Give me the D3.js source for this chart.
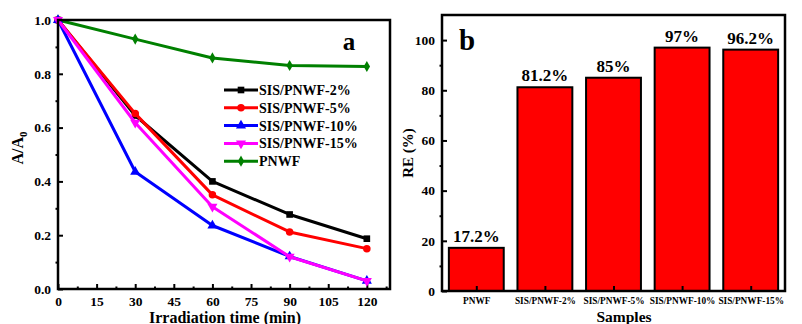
<!DOCTYPE html>
<html><head><meta charset="utf-8">
<script src="https://cdn.jsdelivr.net/npm/d3@7"></script>
<style>body{margin:0;background:#fff}svg{display:block}text{font-family:"Liberation Serif","Times New Roman",serif;font-weight:bold}</style>
</head><body><svg id="c" width="802" height="324"></svg>
<script>
// ---- data ----
const times = [0, 30, 60, 90, 120];
const s2 = [1.0, 0.645, 0.40, 0.277, 0.187];
const s5 = [1.0, 0.652, 0.35, 0.212, 0.150];
const s10 = [1.0, 0.436, 0.236, 0.121, 0.03];
const s15 = [1.0, 0.618, 0.306, 0.120, 0.03];
const pnwf = [1.0, 0.929, 0.859, 0.831, 0.827];
const seriesNames = ["SIS/PNWF-2%", "SIS/PNWF-5%", "SIS/PNWF-10%", "SIS/PNWF-15%", "PNWF"];
const xTicksA = [0, 15, 30, 45, 60, 75, 90, 105, 120];
const yTicksA = [0.0, 0.2, 0.4, 0.6, 0.8, 1.0];
const samples = ["PNWF", "SIS/PNWF-2%", "SIS/PNWF-5%", "SIS/PNWF-10%", "SIS/PNWF-15%"];
const reValues = [17.2, 81.2, 85, 97, 96.2];
const reLabels = ["17.2%", "81.2%", "85%", "97%", "96.2%"];
const yTicksB = [0, 20, 40, 60, 80, 100];

const svg = d3.select("#c");

// ---- panel a ----
const A = {l: 58, r: 390, t: 20, b: 289};
const xa = d3.scaleLinear().domain([0, 129]).range([A.l, A.r]);
const ya = d3.scaleLinear().domain([0, 1.0]).range([A.b, A.t]);
const ga = svg.append("g");

const xMinA = d3.range(7.5, 129, 15);
ga.append("g").attr("transform", `translate(0,${A.b})`)
  .call(d3.axisBottom(xa).tickValues(xMinA).tickSize(-2.5).tickFormat(""))
  .call(g => g.select(".domain").remove()).selectAll("line").attr("stroke-width", 2);
const gxa = ga.append("g").attr("transform", `translate(0,${A.b})`)
  .call(d3.axisBottom(xa).tickValues(xTicksA).tickSize(-5).tickPadding(7).tickFormat(d3.format("d")));
gxa.select(".domain").remove();
gxa.selectAll("line").attr("stroke-width", 2);
gxa.selectAll("text").attr("font-size", 13.5).attr("fill", "#000")
  .attr("font-family", "Liberation Serif").attr("font-weight", "bold").attr("dy", "0.71em");

const yMinA = d3.range(0.1, 1.0, 0.2);
ga.append("g").attr("transform", `translate(${A.l},0)`)
  .call(d3.axisLeft(ya).tickValues(yMinA).tickSize(2.5).tickFormat(""))
  .call(g => g.select(".domain").remove()).selectAll("line").attr("stroke-width", 2);
const gya = ga.append("g").attr("transform", `translate(${A.l},0)`)
  .call(d3.axisLeft(ya).tickValues(yTicksA).tickSize(-5).tickPadding(7).tickFormat(d3.format(".1f")));
gya.select(".domain").remove();
gya.selectAll("line").attr("stroke-width", 2);
gya.selectAll("text").attr("font-size", 13.5).attr("fill", "#000")
  .attr("font-family", "Liberation Serif").attr("font-weight", "bold");

const colors = ["#000000", "#ff0000", "#0000ff", "#ff00ff", "#008000"];
const symbols = [d3.symbolSquare, d3.symbolCircle, d3.symbolTriangle, "tri-down", d3.symbolDiamond];
const allSeries = [s2, s5, s10, s15, pnwf];
const order = [4, 0, 1, 2, 3];
const line = d3.line().x((d, i) => xa(times[i])).y(d => ya(d));
function marker(g, k, x, y) {
  const sym = symbols[k];
  if (sym === "tri-down") {
    g.append("path").attr("d", d3.symbol(d3.symbolTriangle, 44)())
      .attr("transform", `translate(${x},${y}) rotate(180)`).attr("fill", colors[k]);
  } else {
    const size = sym === d3.symbolDiamond ? 36 : 44;
    g.append("path").attr("d", d3.symbol(sym, size)())
      .attr("transform", `translate(${x},${y})`).attr("fill", colors[k]);
  }
}
order.forEach(k => {
  ga.append("path").datum(allSeries[k]).attr("d", line).attr("fill", "none")
    .attr("stroke", colors[k]).attr("stroke-width", 3).attr("stroke-linejoin", "round");
  allSeries[k].forEach((v, i) => marker(ga, k, xa(times[i]), ya(v)));
});

ga.append("rect").attr("x", A.l).attr("y", A.t).attr("width", A.r - A.l).attr("height", A.b - A.t)
  .attr("fill", "none").attr("stroke", "#000").attr("stroke-width", 2.5);

const lg = ga.append("g");
seriesNames.forEach((n, i) => {
  const y = 90 + i * 17.8;
  lg.append("line").attr("x1", 224).attr("x2", 258).attr("y1", y).attr("y2", y)
    .attr("stroke", colors[i]).attr("stroke-width", 3);
  marker(lg, i, 241, y);
  lg.append("text").attr("x", 259).attr("y", y).attr("dy", "0.35em").attr("font-size", 14).text(n);
});

ga.append("text").attr("x", 349).attr("y", 50).attr("text-anchor", "middle").attr("font-size", 25).text("a");
ga.append("text").attr("x", 225).attr("y", 322.5).attr("text-anchor", "middle").attr("font-size", 16).text("Irradiation time (min)");
const yl = ga.append("text").attr("transform", "translate(23,148) rotate(-90)").attr("text-anchor", "middle").attr("font-size", 16);
yl.append("tspan").text("A/A");
yl.append("tspan").attr("font-size", 11).attr("dy", 4).text("0");

// ---- panel b ----
const B = {l: 442, r: 785, t: 15, b: 291};
const xb = d3.scaleLinear().domain([-0.5, 4.5]).range([B.l, B.r]);
const yb = d3.scaleLinear().domain([0, 110]).range([B.b, B.t]);
const gb = svg.append("g");
const bw = (xb(1) - xb(0)) * 0.8;

gb.selectAll("rect.bar").data(reValues).join("rect").attr("class", "bar")
  .attr("x", (d, i) => xb(i) - bw / 2).attr("width", bw)
  .attr("y", d => yb(d)).attr("height", d => yb(0) - yb(d))
  .attr("fill", "#ff0000").attr("stroke", "#000").attr("stroke-width", 2);

gb.selectAll("text.val").data(reLabels).join("text").attr("class", "val")
  .attr("x", (d, i) => xb(i)).attr("y", (d, i) => yb(reValues[i]) - 6)
  .attr("text-anchor", "middle").attr("font-size", 17).text(d => d);

const gxb = gb.append("g").attr("transform", `translate(0,${B.b})`)
  .call(d3.axisBottom(xb).tickValues(d3.range(samples.length)).tickSize(-5).tickPadding(6).tickFormat(i => samples[i]));
gxb.select(".domain").remove();
gxb.selectAll("line").attr("stroke-width", 2);
gxb.selectAll("text").attr("font-size", 9.3).attr("fill", "#000")
  .attr("font-family", "Liberation Serif").attr("font-weight", "bold").attr("dy", "0.71em");

gb.append("g").attr("transform", `translate(${B.l},0)`)
  .call(d3.axisLeft(yb).tickValues(d3.range(10, 110, 20)).tickSize(2.5).tickFormat(""))
  .call(g => g.select(".domain").remove()).selectAll("line").attr("stroke-width", 2);
const gyb = gb.append("g").attr("transform", `translate(${B.l},0)`)
  .call(d3.axisLeft(yb).tickValues(yTicksB).tickSize(-5).tickPadding(7).tickFormat(d3.format("d")));
gyb.select(".domain").remove();
gyb.selectAll("line").attr("stroke-width", 2);
gyb.selectAll("text").attr("font-size", 13.5).attr("fill", "#000")
  .attr("font-family", "Liberation Serif").attr("font-weight", "bold");

gb.append("rect").attr("x", B.l).attr("y", B.t).attr("width", B.r - B.l).attr("height", B.b - B.t)
  .attr("fill", "none").attr("stroke", "#000").attr("stroke-width", 2.5);

gb.append("text").attr("x", 467).attr("y", 50).attr("text-anchor", "middle").attr("font-size", 29).text("b");
gb.append("text").attr("x", 624).attr("y", 321.5).attr("text-anchor", "middle").attr("font-size", 15.5).text("Samples");
gb.append("text").attr("transform", "translate(413,153) rotate(-90)").attr("text-anchor", "middle").attr("font-size", 15).text("RE (%)");
</script></body></html>
